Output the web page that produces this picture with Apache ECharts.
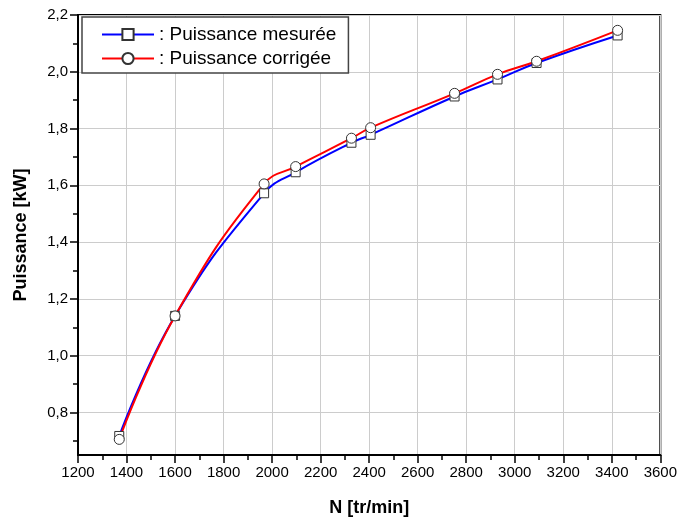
<!DOCTYPE html>
<html>
<head>
<meta charset="utf-8">
<script src="https://cdn.jsdelivr.net/npm/echarts@6/dist/echarts.min.js"></script>
<style>
  html, body { margin: 0; padding: 0; background: #fff; }
  #main { width: 680px; height: 522px; }
</style>
</head>
<body>
<div id="main"></div>
<script>
// vitesse de rotation [tr/min]
const vitesse = [1370, 1600, 1967, 2097, 2327, 2406, 2752, 2929, 3090, 3424]
// puissance mesurée [kW]
const puissanceMesuree = [0.717, 1.140, 1.572, 1.646, 1.750, 1.778, 1.913, 1.973, 2.031, 2.128]
// puissance corrigée [kW]
const puissanceCorrigee = [0.705, 1.140, 1.605, 1.666, 1.766, 1.803, 1.924, 1.991, 2.037, 2.146]
// graduations de l'axe Y
const yMajorTicks = [0.8, 1.0, 1.2, 1.4, 1.6, 1.8, 2.0, 2.2]
const yMinorTicks = [0.7, 0.9, 1.1, 1.3, 1.5, 1.7, 1.9, 2.1]

const font = 'Liberation Sans, Arial, sans-serif'
const chart = echarts.init(document.getElementById('main'))

const option = {
  backgroundColor: '#fff',
  animation: false,
  grid: {
    left: 78,
    right: 19,
    top: 15,
    bottom: 66,
    show: true,
    borderColor: '#000',
    borderWidth: 2
  },
  legend: {
    left: 82,
    top: 17,
    orient: 'vertical',
    itemWidth: 52,
    itemHeight: 14,
    itemGap: 5,
    padding: [8, 12, 5, 19],
    borderColor: '#444',
    borderWidth: 1.5,
    backgroundColor: '#fff',
    formatter: ': {name}',
    textStyle: { fontFamily: font, fontSize: 19, color: '#000' }
  },
  xAxis: {
    type: 'value',
    min: 1200,
    max: 3600,
    interval: 200,
    name: 'N [tr/min]',
    nameLocation: 'middle',
    nameGap: 44,
    nameTextStyle: { fontFamily: font, fontSize: 18, fontWeight: 'bold', color: '#000' },
    axisLine: { onZero: false, lineStyle: { color: '#000', width: 2 } },
    axisTick: { length: 8, lineStyle: { color: '#000', width: 1.5 } },
    minorTick: { show: true, splitNumber: 2, length: 5, lineStyle: { color: '#000', width: 1.5 } },
    axisLabel: { fontFamily: font, fontSize: 15, color: '#000', margin: 10, formatter: v => String(v) },
    splitLine: { show: true, lineStyle: { color: '#ccc', width: 1 } }
  },
  yAxis: [
    {
      type: 'value',
      min: 0.65,
      max: 2.2,
      name: 'Puissance [kW]',
      nameLocation: 'middle',
      nameGap: 48,
      nameTextStyle: { fontFamily: font, fontSize: 18, fontWeight: 'bold', color: '#000' },
      axisLine: { show: true, onZero: false, lineStyle: { color: '#000', width: 2 } },
      axisTick: { show: true, length: 8, customValues: yMajorTicks, lineStyle: { color: '#000', width: 1.5 } },
      axisLabel: {
        fontFamily: font,
        fontSize: 15,
        color: '#000',
        margin: 10,
        customValues: yMajorTicks,
        formatter: v => v.toFixed(1).replace('.', ',')
      },
      splitLine: { show: true, lineStyle: { color: '#ccc', width: 1 } }
    },
    {
      type: 'value',
      min: 0.65,
      max: 2.2,
      position: 'left',
      axisLine: { show: false },
      axisTick: { show: true, length: 5, customValues: yMinorTicks, lineStyle: { color: '#000', width: 1.5 } },
      axisLabel: { show: false },
      splitLine: { show: false }
    }
  ],
  series: [
    {
      name: 'Puissance mesurée',
      type: 'line',
      smooth: 0.45,
      data: vitesse.map((x, i) => [x, puissanceMesuree[i]]),
      symbol: 'rect',
      symbolSize: 9,
      showAllSymbol: true,
      lineStyle: { color: '#0000ff', width: 2 },
      itemStyle: { color: '#fff', borderColor: '#333', borderWidth: 1 }
    },
    {
      name: 'Puissance corrigée',
      type: 'line',
      smooth: 0.45,
      data: vitesse.map((x, i) => [x, puissanceCorrigee[i]]),
      symbol: 'circle',
      symbolSize: 10,
      showAllSymbol: true,
      lineStyle: { color: '#ff0000', width: 2 },
      itemStyle: { color: '#fff', borderColor: '#333', borderWidth: 1 }
    }
  ]
}
option && chart.setOption(option)
</script>
</body>
</html>
